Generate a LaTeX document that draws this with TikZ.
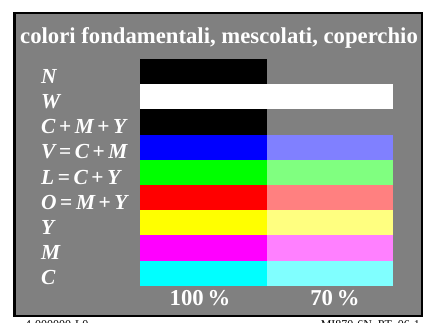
\documentclass[tikz,border=0pt]{standalone}
\usepackage{fontspec}
\setmainfont{Liberation Serif}
\usetikzlibrary{positioning}

\definecolor{cyanrgb}{RGB}{0,255,255}
\definecolor{magentargb}{RGB}{255,0,255}
\definecolor{yellowrgb}{RGB}{255,255,0}

\newcommand{\cplus}{\,{\upshape +}\,}
\newcommand{\ceq}{\,{\upshape =}\,}

\begin{document}
\begin{tikzpicture}[
    x=1bp, y=-1bp,
    node distance=0pt,
    frame/.style={draw=black, line width=2bp, fill=gray},
    bar/.style={rectangle, minimum width=126.5bp, minimum height=25.2bp, inner sep=0pt, outer sep=0pt},
    colname/.style={anchor=base west, inner sep=0pt, text=white, font=\bfseries\itshape\fontsize{21.5}{24}\selectfont},
    heading/.style={anchor=base, inner sep=0pt, text=white, font=\bfseries\fontsize{22.8}{26}\selectfont},
    footer/.style={inner sep=0pt, font=\fontsize{12}{14}\selectfont}
]
    \useasboundingbox (0,0) rectangle (424,323);
    \draw [frame] (14.5,13) rectangle (422,316);

    \node (title) [heading] at (219,43.5) {colori fondamentali, mescolati, coperchio};

    % bars, 100% left and 70% right
    \node (n100) [bar, fill=black, anchor=north west] at (140,59) {};
    \node (w100) [bar, fill=white, below=of n100] {};
    \node (w70) [bar, fill=white, right=of w100] {};
    \node (cmy100) [bar, fill=black, below=of w100] {};
    \node (v100) [bar, fill=blue, below=of cmy100] {};
    \node (v70) [bar, fill=blue!50, right=of v100] {};
    \node (l100) [bar, fill=green, below=of v100] {};
    \node (l70) [bar, fill=green!50, right=of l100] {};
    \node (o100) [bar, fill=red, below=of l100] {};
    \node (o70) [bar, fill=red!50, right=of o100] {};
    \node (y100) [bar, fill=yellowrgb, below=of o100] {};
    \node (y70) [bar, fill=yellowrgb!50, right=of y100] {};
    \node (m100) [bar, fill=magentargb, below=of y100] {};
    \node (m70) [bar, fill=magentargb!50, right=of m100] {};
    \node (c100) [bar, fill=cyanrgb, below=of m100] {};
    \node (c70) [bar, fill=cyanrgb!50, right=of c100] {};

    % row names
    \node (nname) [colname] at (41,83.2) {N};
    \node (wname) [colname] at (41,108.4) {W};
    \node (cmyname) [colname] at (41,133.6) {C\cplus M\cplus Y};
    \node (vname) [colname] at (41,158.8) {V\ceq C\cplus M};
    \node (lname) [colname] at (41,184) {L\ceq C\cplus Y};
    \node (oname) [colname] at (41,209.2) {O\ceq M\cplus Y};
    \node (yname) [colname] at (41,234.4) {Y};
    \node (mname) [colname] at (41,259.6) {M};
    \node (cname) [colname] at (41,284.8) {C};

    \node (full) [heading] at (200,305) {100\,\%};
    \node (part) [heading] at (335,305) {70\,\%};

    \node (codeleft) [footer, anchor=base west] at (25,328) {4-000000-L0};
    \node (coderight) [footer, anchor=base east] at (420,328) {MI870-6N\_PT\_06-1};
\end{tikzpicture}
\end{document}
